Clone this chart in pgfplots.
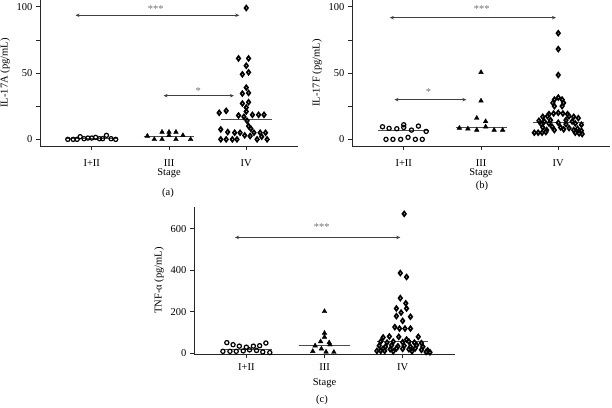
\documentclass[border=0pt]{standalone}
\usepackage{fontspec}
\setmainfont{Liberation Serif}
\usepackage{pgfplots}
\pgfplotsset{compat=1.18}
\usetikzlibrary{arrows.meta}

\tikzset{
  sig/.style={black!75, line width=0.7pt, {Stealth[length=4pt,width=3.5pt]}-{Stealth[length=4pt,width=3.5pt]}},
  star/.style={text=black!55, font=\fontsize{10.5}{12}\selectfont},
}
\pgfplotsset{
  dotstyle/.style={
    scale only axis,
    xmin=-0.67, xmax=2.67,
    axis x line*=bottom, axis y line*=left,
    axis line style={-, line width=0.6pt, black!85},
    xtick={0,1,2}, xticklabels={I+II,III,IV},
    tick align=outside, major tick length=4pt,
    tick style={line width=0.6pt, black!85},
    xlabel={Stage},
    /pgf/number format/assume math mode=true,
    tick label style={font=\fontsize{10.5}{12}\selectfont},
    label style={font=\fontsize{10.5}{12}\selectfont},
    clip=false,
  },
  grpA/.style={only marks, mark=o, mark size=2.1pt, mark options={line width=1.2pt, draw=black, fill=white}},
  grpB/.style={only marks, mark=triangle*, mark size=2.7pt, mark options={draw=black, fill=black}},
  grpC/.style={only marks, mark=diamond*, mark size=2.3pt, mark options={line width=1.7pt, draw=black, fill=white}},
  med/.style={black!70, line width=0.8pt, no marks},
}

\begin{document}
\begin{tikzpicture}
\path[use as bounding box] (0,0) rectangle (612pt,-407pt);

% ---------------- (a) IL-17A ----------------
\begin{axis}[dotstyle, width=258pt, height=146pt, at={(40pt,-146pt)}, anchor=south west,
  xticklabel style={inner sep=1pt, yshift=-8pt}, xlabel style={inner sep=1pt, yshift=0pt},
  ymin=-5, ymax=105, ytick={0,25,50,75,100}, yticklabels={0,,50,,100},
  ylabel={IL-17A (pg/mL)}]
\addplot[med] coordinates {(-0.33,0.5) (0.33,0.5)};
\addplot[med] coordinates {(0.67,2.5) (1.33,2.5)};
\addplot[med] coordinates {(1.67,15) (2.33,15)};
\addplot[grpA] table {
-0.31 0
-0.24 0
-0.19 0
-0.15 2
-0.10 0.5
-0.05 1
0.00 1
0.05 1.5
0.10 0.5
0.14 0.5
0.19 3
0.25 0.5
0.31 0
};
\addplot[grpB] table {
0.72 2.5
0.81 0
0.91 5.5
0.91 0
1.00 5.5
1.00 3
1.09 5.5
1.09 0
1.18 3
1.28 0
};
\addplot[grpC] table {
2.00 99
1.90 61
2.03 61
2.00 55.5
1.95 49
2.03 50.5
2.00 39
1.95 34.5
2.03 35
1.95 27
2.03 28
2.00 24
1.65 20
1.74 21.5
2.00 21
1.90 18
1.97 17
2.08 18.5
2.16 18.5
2.23 18.5
2.01 14
2.03 10
2.06 8
1.67 7.5
1.76 5.5
1.85 5
1.92 5
2.10 5
2.18 5
2.25 5
1.98 3
2.05 2.5
2.20 2
1.67 0
1.74 0
1.82 0
1.88 0
2.14 0
2.27 0
};
\draw[sig] (axis cs:-0.21,93.5) -- (axis cs:1.91,93.5);
\node[star] at (axis cs:0.83,98.5) {***};
\draw[sig] (axis cs:0.93,32.9) -- (axis cs:1.84,32.9);
\node[star] at (axis cs:1.38,36.5) {*};
\end{axis}

% ---------------- (b) IL-17F ----------------
\begin{axis}[dotstyle, width=258pt, height=146pt, at={(352pt,-146pt)}, anchor=south west,
  xticklabel style={inner sep=1pt, yshift=-8pt}, xlabel style={inner sep=1pt, yshift=0pt},
  ymin=-5, ymax=105, ytick={0,25,50,75,100}, yticklabels={0,,50,,100},
  ylabel={IL-17F (pg/mL)}]
\addplot[med] coordinates {(-0.33,6.5) (0.33,6.5)};
\addplot[med] coordinates {(0.67,9) (1.33,9)};
\addplot[med] coordinates {(1.67,13) (2.33,13)};
\addplot[grpA] table {
-0.275 9.5
-0.19 8.3
-0.09 8
0.00 11
0.00 9
0.10 7
0.19 10
0.29 6
-0.23 0
-0.14 0
-0.04 0
0.055 1.5
0.15 0
0.24 0
};
\addplot[grpB] table {
1.00 50.5
1.00 29
0.945 16
1.06 13.5
0.72 8.5
0.83 8
0.945 7
1.06 9.5
1.17 7
1.28 7
};
\addplot[grpC] table {
2.00 80
2.00 68
2.00 48.5
2.00 31.5
1.95 30
2.05 30
1.93 27.5
2.07 27.5
1.95 25
2.05 25
1.88 19
1.94 19.5
2.00 20
2.06 19.5
2.12 19
1.80 17
1.86 17.5
2.14 17.5
2.20 17
2.26 16
1.75 14
1.82 13.5
1.90 14.5
2.10 14.5
2.18 13.5
1.78 11.5
1.88 12
2.00 12.5
2.10 11.5
2.22 12
2.30 11
1.80 9
1.92 9.5
2.03 9
2.14 8.5
2.25 8
1.85 7
1.95 7
2.07 7.5
2.20 7
2.30 6.5
1.69 5
1.74 5
1.79 5
1.84 5.5
2.22 5
2.27 4.5
2.31 4
};
\draw[sig] (axis cs:-0.18,91.7) -- (axis cs:1.97,91.7);
\node[star] at (axis cs:1.01,98.5) {***};
\draw[sig] (axis cs:-0.12,29.9) -- (axis cs:0.81,29.9);
\node[star] at (axis cs:0.32,35.5) {*};
\end{axis}

% ---------------- (c) TNF-alpha ----------------
\begin{axis}[dotstyle, width=261pt, height=147pt, at={(194pt,-354pt)}, anchor=south west,
  xticklabel style={yshift=-2pt}, xlabel style={yshift=-1pt},
  ymin=-5, ymax=705, ytick={0,200,400,600},
  ylabel={TNF-α (pg/mL)}]
\addplot[med] coordinates {(-0.33,16) (0.33,16)};
\addplot[med] coordinates {(0.67,37) (1.33,37)};
\addplot[med] coordinates {(1.67,56) (2.33,56)};
\addplot[grpA] table {
-0.25 50
-0.17 40
-0.09 33
0.00 28
0.09 33
0.17 35
0.25 48
-0.30 8
-0.21 8
-0.13 8
-0.04 10
0.04 15
0.13 12
0.21 5
0.30 2
};
\addplot[grpB] table {
1.00 201
1.00 96
1.00 77
0.95 55
1.06 50
0.88 35
1.07 40
0.96 20
0.85 8
1.02 5
1.12 4
};
\addplot[grpC] table {
2.02 672
1.97 386
2.05 367
1.97 265
2.04 240
1.92 215
2.05 215
1.98 195
1.92 178
2.10 175
2.00 155
1.90 125
1.96 118
2.03 118
2.10 118
1.75 75
1.83 80
1.95 78
2.05 65
2.20 78
1.72 55
1.80 50
1.88 55
2.00 52
2.08 55
2.15 50
2.24 48
1.70 35
1.78 30
1.86 38
1.94 32
2.02 35
2.10 30
2.18 38
2.26 30
1.75 20
1.84 18
1.92 22
2.00 20
2.08 18
2.16 22
2.24 15
2.32 12
1.67 10
1.72 10
1.77 10
1.88 8
2.12 8
2.30 5
2.35 3
};
\draw[sig] (axis cs:-0.145,558) -- (axis cs:1.97,558);
\node[star] at (axis cs:0.965,608) {***};
\end{axis}

\node[font=\fontsize{10.5}{12}\selectfont] at (168pt,-193pt) {(a)};
\node[font=\fontsize{10.5}{12}\selectfont] at (482pt,-186pt) {(b)};
\node[font=\fontsize{10.5}{12}\selectfont] at (322pt,-400pt) {(c)};
\end{tikzpicture}
\end{document}
